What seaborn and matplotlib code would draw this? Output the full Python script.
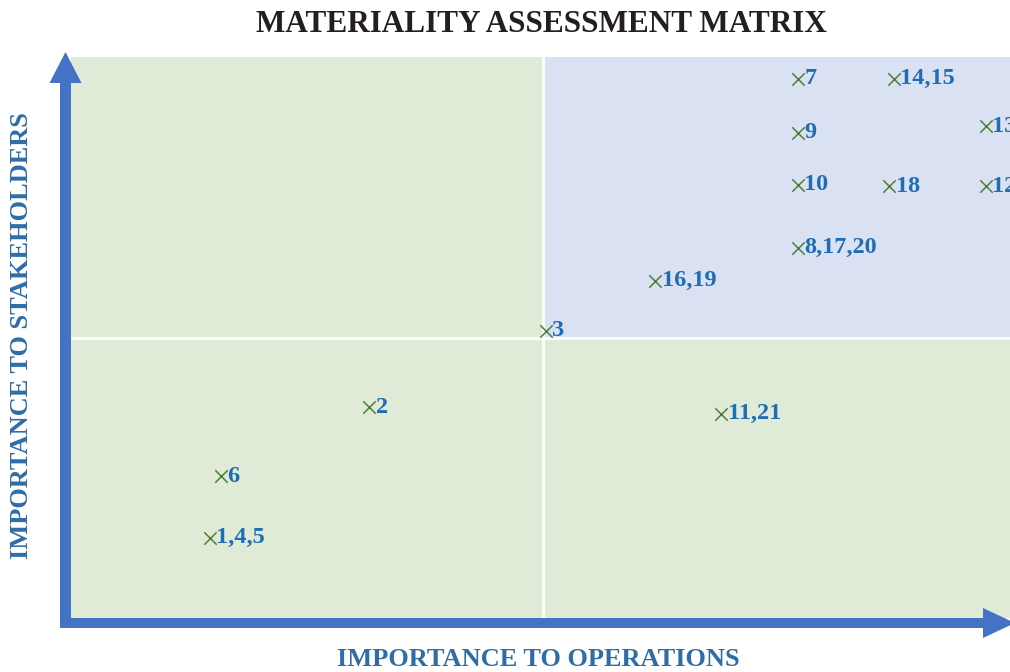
import matplotlib
matplotlib.use("Agg")
import matplotlib.pyplot as plt
from matplotlib.patches import FancyArrow
import seaborn as sns
import pandas as pd

# data (0-10 scale on both axes)
labels = ["7", "14,15", "9", "13", "10", "18", "12", "8,17,20", "16,19", "3", "11,21", "2", "6", "1,4,5"]
operations = [7.70, 8.72, 7.70, 9.69, 7.70, 8.67, 9.69, 7.70, 6.19, 5.03, 6.89, 3.16, 1.59, 1.47]
stakeholders = [9.61, 9.61, 8.65, 8.77, 7.72, 7.70, 7.70, 6.60, 6.01, 5.12, 3.64, 3.76, 2.53, 1.43]

df = pd.DataFrame({"ops": operations, "stk": stakeholders, "label": labels})

sns.set_style("white")
plt.rcParams["font.family"] = ["Liberation Serif", "DejaVu Serif"]

green_bg = "#DFEBD6"
blue_bg = "#D9E1F2"
arrow_col = "#4472C4"
label_col = "#1F6DB5"
marker_col = "#4E7F36"
axis_text = "#2E6DA8"

W, H = 1010, 672
fig = plt.figure(figsize=(W / 100, H / 100), dpi=100)

ax = fig.add_axes([71 / W, (H - 618) / H, (1015 - 71) / W, (618 - 57) / H])
ax.set_xlim(0, 10)
ax.set_ylim(0, 10)
ax.set_facecolor(green_bg)
ax.axvspan(5, 10, ymin=0.5, ymax=1, color=blue_bg, lw=0, zorder=0)
ax.axvline(5, color="white", lw=2, zorder=1)
ax.axhline(5, color="white", lw=2, zorder=1)

sns.scatterplot(data=df, x="ops", y="stk", marker="x", color=marker_col,
                s=80, linewidth=1.1, ax=ax, zorder=3, legend=False)
for _, r in df.iterrows():
    ax.annotate(r["label"], (r["ops"], r["stk"]), xytext=(4.5, 0), textcoords="offset points",
                va="center", ha="left", fontsize=17.5, fontweight="bold", color=label_col,
                annotation_clip=False, zorder=4)

ax.set_xticks([])
ax.set_yticks([])
ax.set_xlabel("")
ax.set_ylabel("")
for s in ax.spines.values():
    s.set_visible(False)

# overlay in pixel units for the axis arrows and texts
ov = fig.add_axes([0, 0, 1, 1], zorder=5)
ov.set_xlim(0, W)
ov.set_ylim(H, 0)
ov.axis("off")
ov.patch.set_alpha(0)

ov.add_patch(FancyArrow(65.5, 628, 0, -576, width=11, head_width=32, head_length=31,
                        length_includes_head=True, color=arrow_col, lw=0))
ov.add_patch(FancyArrow(60, 623, 955, 0, width=10, head_width=30, head_length=32,
                        length_includes_head=True, color=arrow_col, lw=0))

ov.text(541, 24, "MATERIALITY ASSESSMENT MATRIX", ha="center", va="center",
        fontsize=22.5, fontweight="bold", color="#231F20")
ov.text(538, 659, "IMPORTANCE TO OPERATIONS", ha="center", va="center",
        fontsize=19, fontweight="bold", color=axis_text)
ov.text(22, 336, "IMPORTANCE TO STAKEHOLDERS", ha="center", va="center", rotation=90,
        fontsize=19, fontweight="bold", color=axis_text)

fig.savefig("out.png", dpi=100)
